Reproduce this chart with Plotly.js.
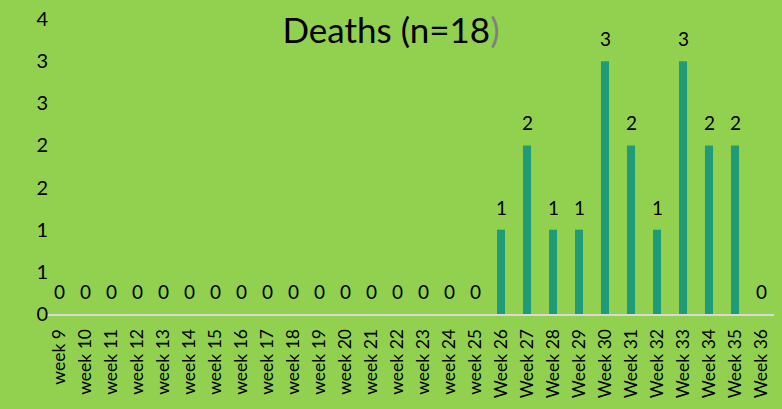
<!DOCTYPE html>
<html>
<head>
<meta charset="utf-8">
<script src="https://cdn.plot.ly/plotly-3.0.1.min.js"></script>
<style>html,body{margin:0;padding:0;background:#92d050;}#chart{width:782px;height:409px;}</style>
</head>
<body>
<div id="chart"></div>
<script>
const weeks = ["week 9","week 10","week 11","week 12","week 13","week 14","week 15","week 16","week 17","week 18","week 19","week 20","week 21","week 22","week 23","week 24","week 25","Week 26","Week 27","Week 28","Week 29","Week 30","Week 31","Week 32","Week 33","Week 34","Week 35","Week 36"];
const deaths = [0,0,0,0,0,0,0,0,0,0,0,0,0,0,0,0,0,1,2,1,1,3,2,1,3,2,2,0];
const yTickVals = [0,0.5,1,1.5,2,2.5,3,3.5];
const yTickText = ["0","1","1","2","2","3","3","4"];

const font = "Lato, 'Open Sans', sans-serif";
const trace = {
  type: 'bar', x: weeks, y: deaths,
  marker: {color: '#1f9b78'},
  hoverinfo: 'x+y'
};
const labels = weeks.map((w, i) => ({
  x: w, y: deaths[i], xref: 'x', yref: 'y',
  text: String(deaths[i]), showarrow: false,
  yanchor: 'bottom', yshift: 9,
  font: {family: font, size: 19, color: '#000'}
}));
const layout = {
  width: 782, height: 409,
  paper_bgcolor: '#92d050', plot_bgcolor: '#92d050',
  margin: {l: 46, r: 8, t: 19, b: 95},
  bargap: 0.69,
  showlegend: false,
  title: {text: 'Deaths (n=18<span style="color:#7f7f7f">)</span>', x: 0.5, xanchor: 'center', y: 0.925, yanchor: 'middle',
          font: {family: font, size: 35, color: '#000'}},
  xaxis: {type: 'category', tickangle: -90, showgrid: false, zeroline: false,
          showline: true, linecolor: '#d9d9d9', linewidth: 2, ticks: '', ticklen: 0,
          ticklabelstandoff: 6,
          tickfont: {family: font, size: 17.5, color: '#000'}},
  yaxis: {range: [0, 3.5], tickvals: yTickVals, ticktext: yTickText, showgrid: false,
          zeroline: false, showline: false, ticks: 'outside', ticklen: 1, tickcolor: 'rgba(0,0,0,0)',
          ticklabelposition: 'outside', ticklabelshift: 0, ticklabelstandoff: -8,
          tickfont: {family: font, size: 20, color: '#000'}},
  annotations: labels
};
Plotly.newPlot('chart', [trace], layout, {displayModeBar: false, staticPlot: true});
</script>
</body>
</html>
